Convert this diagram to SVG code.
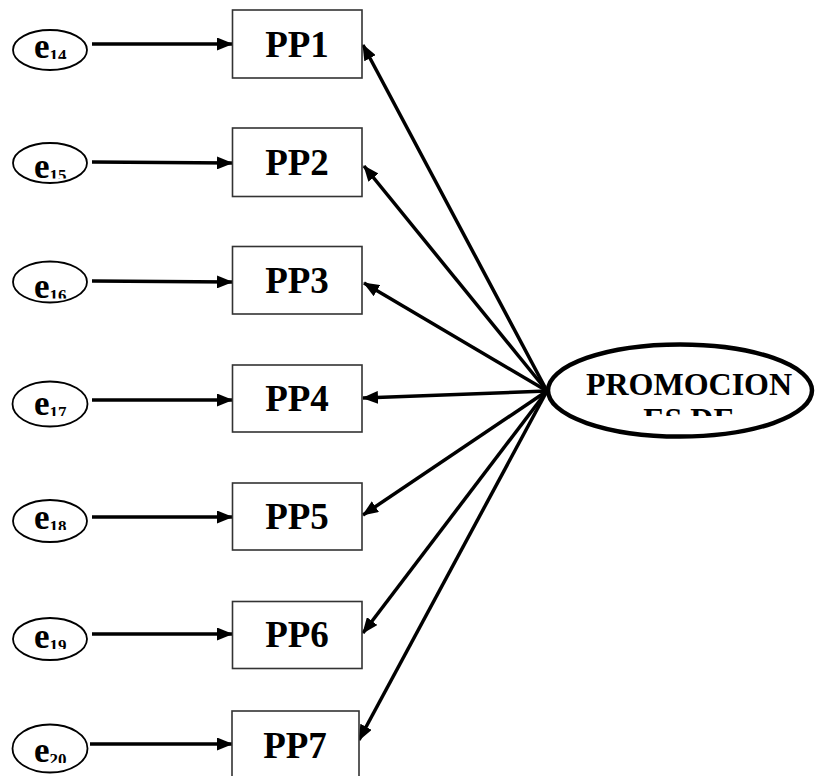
<svg xmlns="http://www.w3.org/2000/svg" width="815" height="776" viewBox="0 0 815 776">
  <style>
    .err { fill: #fff; stroke: #000; stroke-width: 1.8; }
    .box { fill: #fff; stroke: #333; stroke-width: 1.6; }
    .lat { fill: #fff; stroke: #000; stroke-width: 4.5; }
    .lbl { font-family: "Liberation Serif", "Times New Roman", serif; font-weight: bold; fill: #000; }
    .pp { font-size: 37px; text-anchor: middle; }
    .e { font-size: 35px; }
    .sub { font-size: 17px; }
    .big { font-size: 32px; text-anchor: middle; }
    .arr { stroke: #000; stroke-width: 3.5; fill: none; marker-end: url(#head); }
  </style>
  <defs>
    <marker id="head" viewBox="0 0 16 13" refX="15" refY="6.5" markerWidth="16" markerHeight="13" markerUnits="userSpaceOnUse" orient="auto">
      <path d="M0,0 L16,6.5 L0,13 z" fill="#000"/>
    </marker>
    <clipPath id="c14"><rect x="0" y="0" width="100" height="59"/></clipPath>
    <clipPath id="c15"><rect x="0" y="120" width="100" height="58.5"/></clipPath>
    <clipPath id="c16"><rect x="0" y="240" width="100" height="58.5"/></clipPath>
    <clipPath id="c17"><rect x="0" y="370" width="100" height="46"/></clipPath>
    <clipPath id="c18"><rect x="0" y="480" width="100" height="50"/></clipPath>
    <clipPath id="c19"><rect x="0" y="600" width="100" height="49"/></clipPath>
    <clipPath id="c20"><rect x="0" y="700" width="100" height="63"/></clipPath>
    <clipPath id="cLat"><rect x="540" y="330" width="275" height="86"/></clipPath>
  </defs>

  <!-- connectors: latent factor to indicators, errors to indicators -->
  <g id="connectors">
    <line class="arr" x1="92" y1="44" x2="232" y2="44"/>
    <line class="arr" x1="92" y1="162" x2="232" y2="163"/>
    <line class="arr" x1="92" y1="281" x2="232" y2="282"/>
    <line class="arr" x1="92" y1="400" x2="232" y2="400"/>
    <line class="arr" x1="92" y1="517" x2="232" y2="517"/>
    <line class="arr" x1="92" y1="634" x2="232" y2="634"/>
    <line class="arr" x1="90" y1="744" x2="232" y2="744"/>

    <line class="arr" x1="547" y1="391" x2="363" y2="45"/>
    <line class="arr" x1="547" y1="391" x2="364" y2="166"/>
    <line class="arr" x1="547" y1="391" x2="364" y2="283"/>
    <line class="arr" x1="547" y1="391" x2="363" y2="398"/>
    <line class="arr" x1="547" y1="391" x2="363" y2="515"/>
    <line class="arr" x1="547" y1="391" x2="363" y2="633"/>
    <line class="arr" x1="547" y1="391" x2="359" y2="740"/>
  </g>

  <!-- error terms -->
  <g id="e14">
    <ellipse class="err" cx="50" cy="50" rx="37" ry="20"/>
    <text class="lbl" x="34" y="58" clip-path="url(#c14)"><tspan class="e">e</tspan><tspan class="sub" dy="3">14</tspan></text>
  </g>
  <g id="e15">
    <ellipse class="err" cx="50" cy="163" rx="37" ry="20"/>
    <text class="lbl" x="34" y="177.5" clip-path="url(#c15)"><tspan class="e">e</tspan><tspan class="sub" dy="3">15</tspan></text>
  </g>
  <g id="e16">
    <ellipse class="err" cx="50" cy="282" rx="37" ry="20.5"/>
    <text class="lbl" x="34" y="297.5" clip-path="url(#c16)"><tspan class="e">e</tspan><tspan class="sub" dy="3">16</tspan></text>
  </g>
  <g id="e17">
    <ellipse class="err" cx="50" cy="404" rx="37.5" ry="22.5"/>
    <text class="lbl" x="34" y="415" clip-path="url(#c17)"><tspan class="e">e</tspan><tspan class="sub" dy="3">17</tspan></text>
  </g>
  <g id="e18">
    <ellipse class="err" cx="50" cy="521" rx="37" ry="21"/>
    <text class="lbl" x="34" y="529" clip-path="url(#c18)"><tspan class="e">e</tspan><tspan class="sub" dy="3">18</tspan></text>
  </g>
  <g id="e19">
    <ellipse class="err" cx="50" cy="639" rx="37" ry="21"/>
    <text class="lbl" x="34" y="648" clip-path="url(#c19)"><tspan class="e">e</tspan><tspan class="sub" dy="3">19</tspan></text>
  </g>
  <g id="e20">
    <ellipse class="err" cx="50" cy="748.5" rx="37.5" ry="24"/>
    <text class="lbl" x="34" y="762" clip-path="url(#c20)"><tspan class="e">e</tspan><tspan class="sub" dy="3">20</tspan></text>
  </g>

  <!-- observed indicators -->
  <g id="PP1">
    <rect class="box" x="232.5" y="10" width="129.5" height="68"/>
    <text class="lbl pp" x="297" y="57">PP1</text>
  </g>
  <g id="PP2">
    <rect class="box" x="232.5" y="128" width="129.5" height="68.5"/>
    <text class="lbl pp" x="297" y="175">PP2</text>
  </g>
  <g id="PP3">
    <rect class="box" x="232.5" y="246.5" width="129.5" height="67.5"/>
    <text class="lbl pp" x="297" y="293">PP3</text>
  </g>
  <g id="PP4">
    <rect class="box" x="232.5" y="365" width="129.5" height="67"/>
    <text class="lbl pp" x="297" y="411">PP4</text>
  </g>
  <g id="PP5">
    <rect class="box" x="232.5" y="483" width="129.5" height="67"/>
    <text class="lbl pp" x="297" y="529">PP5</text>
  </g>
  <g id="PP6">
    <rect class="box" x="232.5" y="601.5" width="129.5" height="67"/>
    <text class="lbl pp" x="297" y="647">PP6</text>
  </g>
  <g id="PP7">
    <rect class="box" x="232" y="711" width="127" height="80"/>
    <text class="lbl pp" x="295" y="758">PP7</text>
  </g>

  <!-- latent factor -->
  <g id="PROMOCIONES">
    <ellipse class="lat" cx="680" cy="390.5" rx="132" ry="46"/>
    <text class="lbl big" clip-path="url(#cLat)"><tspan x="689" y="395">PROMOCION</tspan><tspan x="689" y="430">ES DE</tspan></text>
  </g>
</svg>
